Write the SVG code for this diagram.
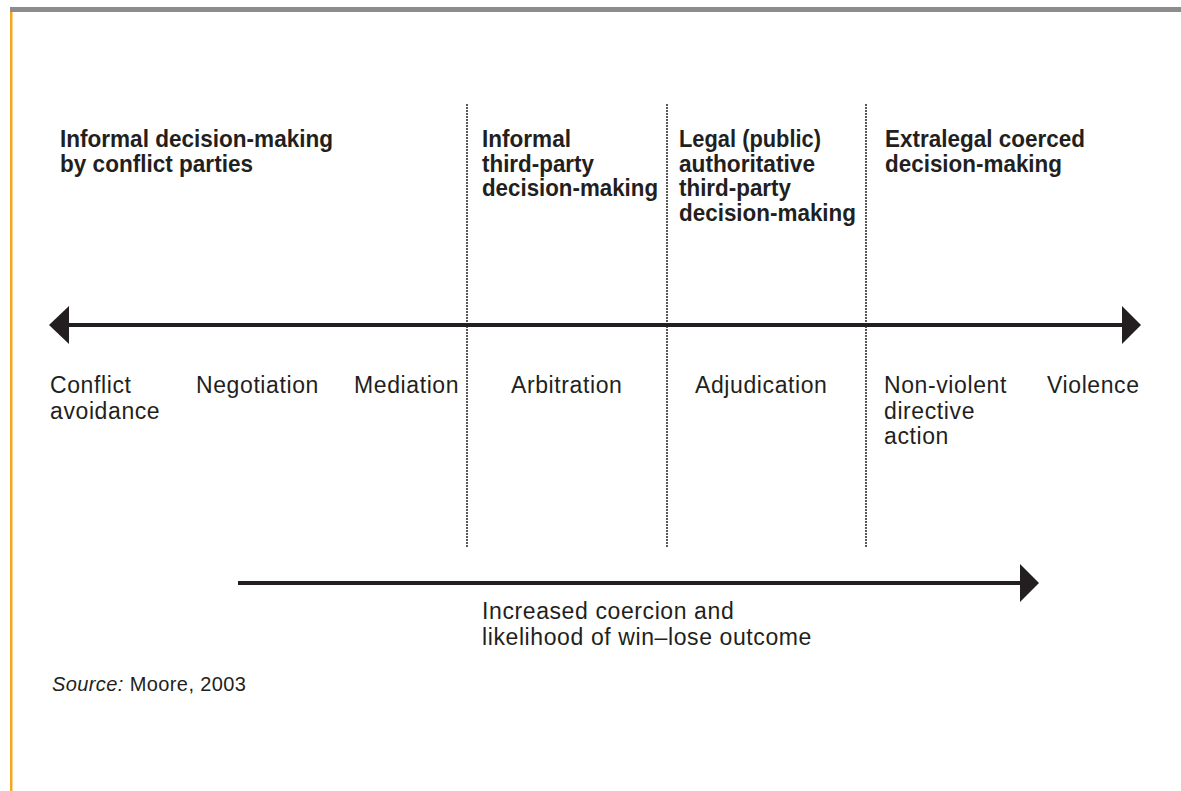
<svg xmlns="http://www.w3.org/2000/svg" width="1181" height="791" viewBox="0 0 1181 791">
<style>
.h{font-family:"Liberation Sans",Arial,sans-serif;font-weight:bold;font-size:24px;fill:#231f20}
.l{font-family:"Liberation Sans",Arial,sans-serif;font-size:23px;fill:#231f20;letter-spacing:0.6px}
.src{font-family:"Liberation Sans",Arial,sans-serif;font-size:20px;fill:#231f20;letter-spacing:0.4px}
.dot{stroke:#231f20;stroke-width:2;stroke-linecap:round;stroke-dasharray:0 3;fill:none}
.ax{stroke:#231f20;stroke-width:3.8;fill:none}
.hd{fill:#231f20}
</style>
<rect width="1181" height="791" fill="#ffffff"/>
<rect x="10" y="7" width="1171" height="5" fill="#8c8c8c"/>
<rect x="10" y="12" width="2.5" height="779" fill="#f7a623"/>
<g id="connectors">
<line class="dot" x1="467" y1="105" x2="467" y2="547"/>
<line class="dot" x1="667" y1="105" x2="667" y2="547"/>
<line class="dot" x1="866" y1="105" x2="866" y2="547"/>
<line class="ax" x1="68" y1="325" x2="1123" y2="325"/>
<polygon class="hd" points="49,325 69,306 69,344"/>
<polygon class="hd" points="1141,325 1122,306 1122,344"/>
<line class="ax" x1="238" y1="583" x2="1021" y2="583"/>
<polygon class="hd" points="1039,583 1020,564 1020,602"/>
</g>
<g id="heading-informal">
<text class="h" x="60" y="147" textLength="273" lengthAdjust="spacingAndGlyphs">Informal decision-making</text>
<text class="h" x="60" y="171.5" textLength="193" lengthAdjust="spacingAndGlyphs">by conflict parties</text>
</g>
<g id="heading-third-party">
<text class="h" x="482" y="147" textLength="89" lengthAdjust="spacingAndGlyphs">Informal</text>
<text class="h" x="482" y="171.5" textLength="112" lengthAdjust="spacingAndGlyphs">third-party</text>
<text class="h" x="482" y="196" textLength="176" lengthAdjust="spacingAndGlyphs">decision-making</text>
</g>
<g id="heading-legal">
<text class="h" x="679" y="147" textLength="142" lengthAdjust="spacingAndGlyphs">Legal (public)</text>
<text class="h" x="679" y="171.5" textLength="136" lengthAdjust="spacingAndGlyphs">authoritative</text>
<text class="h" x="679" y="196" textLength="112" lengthAdjust="spacingAndGlyphs">third-party</text>
<text class="h" x="679" y="220.5" textLength="177" lengthAdjust="spacingAndGlyphs">decision-making</text>
</g>
<g id="heading-extralegal">
<text class="h" x="885" y="147" textLength="200" lengthAdjust="spacingAndGlyphs">Extralegal coerced</text>
<text class="h" x="885" y="171.5" textLength="177" lengthAdjust="spacingAndGlyphs">decision-making</text>
</g>
<g id="label-avoidance"><text class="l" x="50" y="392.5">Conflict</text><text class="l" x="50" y="418.5">avoidance</text></g>
<g id="label-negotiation"><text class="l" x="196" y="392.5">Negotiation</text></g>
<g id="label-mediation"><text class="l" x="354" y="392.5">Mediation</text></g>
<g id="label-arbitration"><text class="l" x="511" y="392.5">Arbitration</text></g>
<g id="label-adjudication"><text class="l" x="695" y="392.5">Adjudication</text></g>
<g id="label-nonviolent"><text class="l" x="884" y="392.5">Non-violent</text><text class="l" x="884" y="418.5">directive</text><text class="l" x="884" y="444">action</text></g>
<g id="label-violence"><text class="l" x="1047" y="392.5">Violence</text></g>
<g id="label-coercion">
<text class="l" x="482" y="619">Increased coercion and</text>
<text class="l" x="482" y="644.5">likelihood of win–lose outcome</text>
</g>
<text class="src" x="52" y="691"><tspan font-style="italic">Source:</tspan> Moore, 2003</text>
</svg>
